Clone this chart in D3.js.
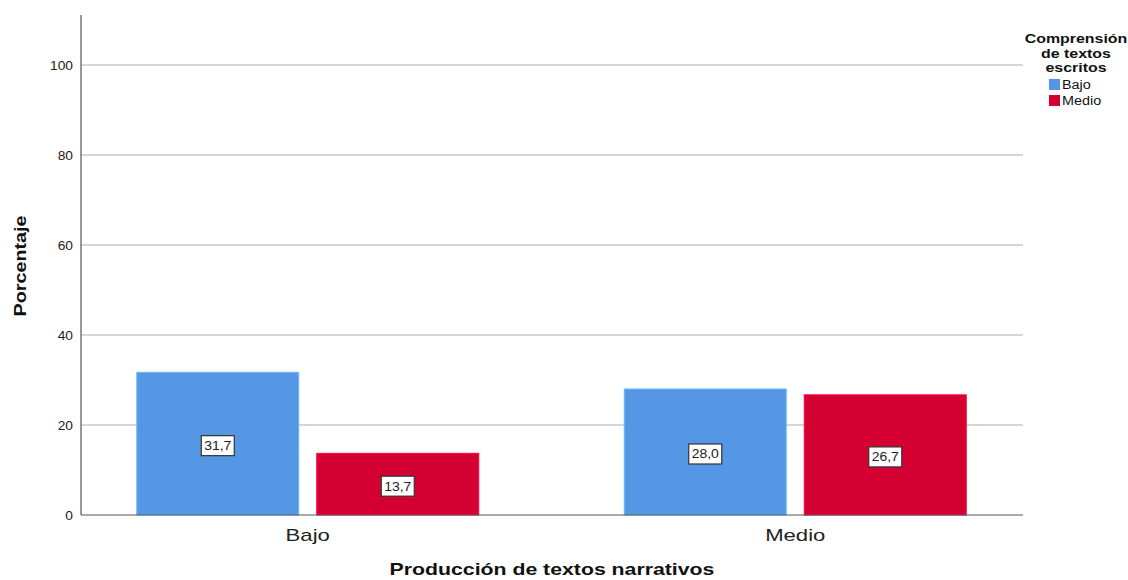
<!DOCTYPE html>
<html>
<head>
<meta charset="utf-8">
<script src="https://cdn.jsdelivr.net/npm/d3@7"></script>
<style>
body { margin: 0; background: #fff; }
svg { font-family: "Liberation Sans", Arial, sans-serif; }
</style>
</head>
<body>
<svg width="1128" height="580"></svg>
<script>
var categories = ["Bajo", "Medio"]
var seriesNames = ["Bajo", "Medio"]
var seriesColors = ["#5596e5", "#d50032"]
var bajoValues = [31.7, 28.0]
var medioValues = [13.7, 26.7]
var yTicks = [0, 20, 40, 60, 80, 100]
var legendTitle = ["Comprensión", "de textos", "escritos"]

var svg = d3.select("svg")
var plot = { left: 81, right: 1023, top: 15, bottom: 515 }

// the original renderer draws text a bit wider than Liberation Sans
function stretch(sel, k) {
	sel.each(function(){
		var w = this.getComputedTextLength()
		d3.select(this)
		  .attr("textLength", w * k)
		  .attr("lengthAdjust", "spacingAndGlyphs")
	})
}

var y = d3.scaleLinear()
          .domain([0, 111.1])
          .range([plot.bottom, plot.top])

var x0 = d3.scaleBand()
           .domain(categories)
           .range([64, 1039])

var x1 = d3.scaleBand()
           .domain(seriesNames)
           .range([0, 342])
           .paddingInner(0.1)

// gridlines
svg.append("g")
   .selectAll("line")
   .data(yTicks.filter(function(d){ return d > 0 }))
   .enter()
   .append("line")
   .attr("x1", plot.left)
   .attr("x2", plot.right)
   .attr("y1", function(d){ return y(d) })
   .attr("y2", function(d){ return y(d) })
   .attr("stroke", "#c8c8c8")
   .attr("stroke-width", 1.5)

// bars
var rows = categories.map(function(c, i){
	return [ { cat: c, s: seriesNames[0], v: bajoValues[i], col: seriesColors[0] },
	         { cat: c, s: seriesNames[1], v: medioValues[i], col: seriesColors[1] } ]
})
var flat = [].concat.apply([], rows)

var barG = svg.append("g")
barG.selectAll("rect")
    .data(flat)
    .enter()
    .append("rect")
    .attr("x", function(d){ return x0(d.cat) + x0.bandwidth()/2 - 171 + x1(d.s) })
    .attr("y", function(d){ return y(d.v) })
    .attr("width", x1.bandwidth())
    .attr("height", function(d){ return y(0) - y(d.v) })
    .attr("fill", function(d){ return d.col })
    .attr("stroke", function(d){ return d3.color(d.col).brighter(0.6) })
    .attr("stroke-width", 1)

// value labels
var lab = svg.append("g")
	.selectAll("g")
	.data(flat)
	.enter()
	.append("g")
	.attr("transform", function(d){
		var cx = x0(d.cat) + x0.bandwidth()/2 - 171 + x1(d.s) + x1.bandwidth()/2
		var cy = y(d.v/2) + 2
		return "translate(" + cx + "," + cy + ")"
	})
lab.append("rect")
   .attr("x", -16.5)
   .attr("y", -10)
   .attr("width", 33)
   .attr("height", 20)
   .attr("fill", "#fff")
   .attr("stroke", "#333")
   .attr("stroke-width", 1.2)
lab.append("text")
   .text(function(d){ return d3.format(".1f")(d.v).replace(".", ",") })
   .attr("text-anchor", "middle")
   .attr("dy", "0.36em")
   .attr("font-size", 12.5)
   .attr("fill", "#222")
   .call(stretch, 1.12)

// axes lines
svg.append("line")
   .attr("x1", plot.left).attr("x2", plot.left)
   .attr("y1", plot.top).attr("y2", plot.bottom)
   .attr("stroke", "#555").attr("stroke-width", 1.2)
svg.append("line")
   .attr("x1", plot.left).attr("x2", plot.right)
   .attr("y1", plot.bottom).attr("y2", plot.bottom)
   .attr("stroke", "#555").attr("stroke-width", 1.2)

// y tick labels
svg.append("g")
   .selectAll("text")
   .data(yTicks)
   .enter()
   .append("text")
   .text(function(d){ return d })
   .attr("x", 73)
   .attr("y", function(d){ return y(d) })
   .attr("dy", "0.35em")
   .attr("text-anchor", "end")
   .attr("font-size", 13)
   .attr("fill", "#222")
   .call(stretch, 1.06)

// x tick labels
svg.append("g")
   .selectAll("text")
   .data(categories)
   .enter()
   .append("text")
   .text(function(d){ return d })
   .attr("x", function(d){ return x0(d) + x0.bandwidth()/2 })
   .attr("y", 541)
   .attr("text-anchor", "middle")
   .attr("font-size", 17)
   .attr("fill", "#222")
   .call(stretch, 1.3)

// axis titles
svg.append("text")
   .text("Producción de textos narrativos")
   .attr("x", 552)
   .attr("y", 575)
   .attr("text-anchor", "middle")
   .attr("font-size", 17)
   .attr("font-weight", "bold")
   .attr("fill", "#111")
   .call(stretch, 1.25)
svg.append("text")
   .text("Porcentaje")
   .attr("transform", "translate(26,266) rotate(-90)")
   .attr("text-anchor", "middle")
   .attr("font-size", 17)
   .attr("font-weight", "bold")
   .attr("fill", "#111")
   .call(stretch, 1.16)

// legend
var leg = svg.append("g")
leg.selectAll("text.t")
   .data(legendTitle)
   .enter()
   .append("text")
   .attr("class", "t")
   .text(function(d){ return d })
   .attr("x", 1076)
   .attr("y", function(d, i){ return 43 + i*14.5 })
   .attr("text-anchor", "middle")
   .attr("font-size", 13.5)
   .attr("font-weight", "bold")
   .attr("fill", "#111")
   .call(stretch, 1.18)
var items = leg.selectAll("g")
   .data(seriesNames)
   .enter()
   .append("g")
   .attr("transform", function(d, i){ return "translate(1049," + (79 + i*16) + ")" })
items.append("rect")
   .attr("width", 11)
   .attr("height", 11)
   .attr("fill", function(d, i){ return seriesColors[i] })
items.append("text")
   .text(function(d){ return d })
   .attr("x", 13)
   .attr("y", 10)
   .attr("font-size", 12.5)
   .attr("fill", "#111")
   .call(stretch, 1.15)
</script>
</body>
</html>
